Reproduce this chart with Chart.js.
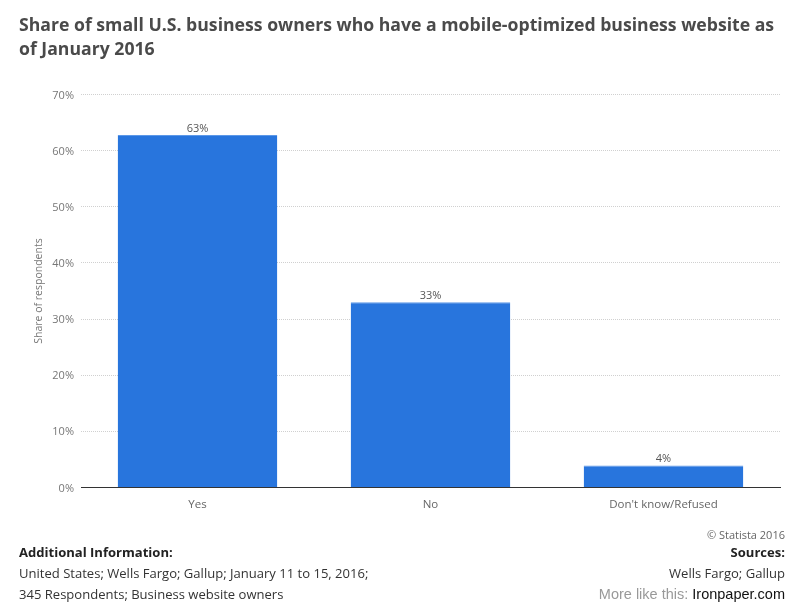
<!DOCTYPE html>
<html><head><meta charset="utf-8">
<script src="https://cdn.jsdelivr.net/npm/chart.js@4"></script>
<style>
html,body{margin:0;padding:0;background:#fff;overflow:hidden}
body{width:800px;height:610px;position:relative;font-family:"Open Sans",sans-serif}
#c{position:absolute;left:0;top:0}
.t{position:absolute;white-space:nowrap}
#title{left:19px;top:12px;font-size:17.65px;line-height:24px;font-weight:700;color:#4a4a4a;white-space:normal;width:765px}
.f{font-size:13.05px;color:#333;line-height:17px}
</style></head><body>
<canvas id="c" width="800" height="610" style="width:800px;height:610px"></canvas>
<div class="t" id="title">Share of small U.S. business owners who have a mobile-optimized business website as of January 2016</div>
<div class="t f" style="left:19px;top:544px;font-weight:700;color:#222">Additional Information:</div>
<div class="t f" style="left:19px;top:565px">United States; Wells Fargo; Gallup; January 11 to 15, 2016;</div>
<div class="t f" style="left:19px;top:586px">345 Respondents; Business website owners</div>
<div class="t" style="right:15px;top:527px;font-size:11px;line-height:16px;color:#666">© Statista 2016</div>
<div class="t f" style="right:15px;top:544px;font-weight:700;color:#222">Sources:</div>
<div class="t f" style="right:15px;top:565px">Wells Fargo; Gallup</div>
<div class="t" style="right:15px;top:586px;font-family:'Liberation Sans',sans-serif;font-size:14.5px;line-height:17px;color:#999">More like this: <span style="color:#111">Ironpaper.com</span></div>
<script>
const categories = ["Yes", "No", "Don't know/Refused"];
const shareValues = [62.8, 33, 3.9];
const valueLabels = ["63%", "33%", "4%"];
const yTicks = [0, 10, 20, 30, 40, 50, 60, 70];
const yAxisTitle = "Share of respondents";

const barLabels = {
  id: "barLabels",
  afterDatasetsDraw(chart) {
    const { ctx } = chart;
    const meta = chart.getDatasetMeta(0);
    ctx.save();
    ctx.font = '11px "Open Sans"';
    ctx.fillStyle = "#555";
    ctx.textAlign = "center";
    ctx.textBaseline = "bottom";
    meta.data.forEach((bar, i) => ctx.fillText(valueLabels[i], bar.x, bar.y - 1));
    ctx.restore();
  }
};

new Chart(document.getElementById("c"), {
  type: "bar",
  data: {
    labels: categories,
    datasets: [{
      data: shareValues,
      backgroundColor: "#2875dd",
      borderColor: "#5c98e8",
      borderWidth: { top: 1, left: 0, right: 0, bottom: 0 },
      categoryPercentage: 1,
      barPercentage: 0.685
    }]
  },
  options: {
    responsive: false,
    animation: false,
    layout: { padding: { top: 94.5, left: 0, right: 20, bottom: 0 } },
    plugins: { legend: { display: false }, tooltip: { enabled: false } },
    scales: {
      x: {
        afterFit(s) { s.height = 610 - 487.5; },
        border: { color: "#333", width: 1 },
        grid: { display: false },
        ticks: { color: "#666", font: { family: "Open Sans", size: 11.5 }, padding: 2 }
      },
      y: {
        min: 0, max: 70,
        afterFit(s) { s.width = 81; },
        afterBuildTicks(s) { s.ticks = yTicks.map(v => ({ value: v })); },
        border: { display: false, dash: [1, 1] },
        grid: { color: "#d0d0d0", lineWidth: 1, drawTicks: false },
        ticks: {
          color: "#777", padding: 7, labelOffset: 1,
          font: { family: "Open Sans", size: 11 },
          callback: v => v + "%"
        },
        title: {
          display: true, text: yAxisTitle, color: "#777",
          font: { family: "Open Sans", size: 10.5 }, padding: { top: 33, bottom: 0 }
        }
      }
    }
  },
  plugins: [barLabels]
});
</script>
</body></html>
